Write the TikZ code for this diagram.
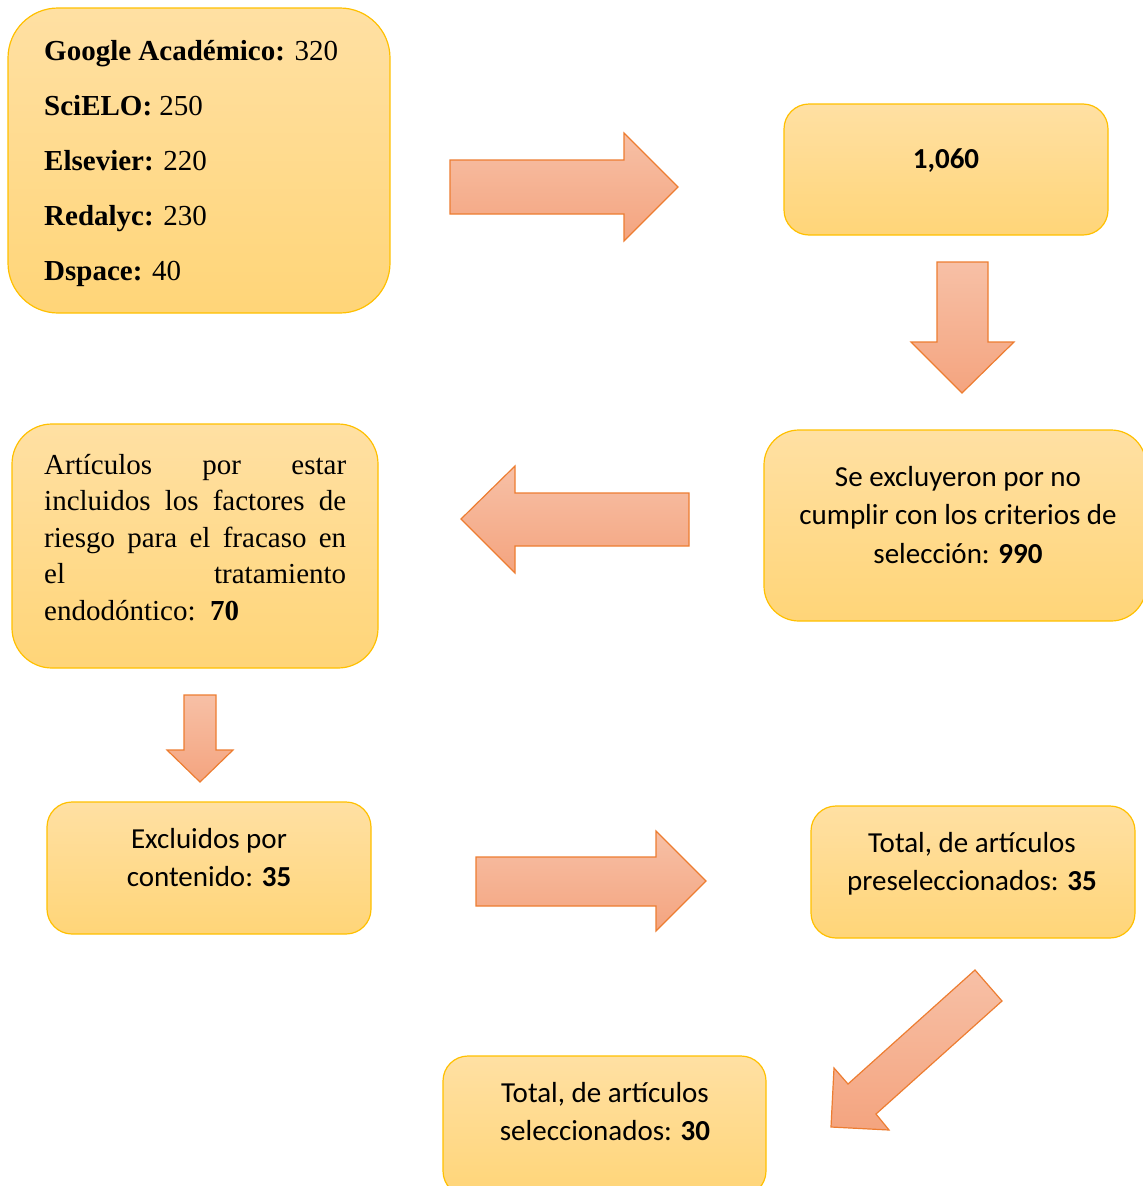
\documentclass[tikz,border=0pt]{standalone}
\usepackage{fontspec}
\setmainfont{Liberation Serif}
\newfontfamily\calfont{Carlito}
\definecolor{boxtop}{HTML}{FFE0A3}
\definecolor{boxbot}{HTML}{FFD578}
\definecolor{boxline}{HTML}{FFC000}
\definecolor{arrtop}{HTML}{F7C0A6}
\definecolor{arrbot}{HTML}{F4A47F}
\definecolor{arrline}{HTML}{ED7D31}
\begin{document}
\begin{tikzpicture}[x=1pt,y=-1pt,
  box/.style={draw=boxline, line width=1.2pt, top color=boxtop, bottom color=boxbot, inner sep=0pt},
  blockarrow/.style={draw=arrline, line width=1.2pt, top color=arrtop, bottom color=arrbot, line join=miter},
  serif/.style={inner sep=0pt, font=\fontsize{29}{55}\selectfont},
  calibri/.style={inner sep=0pt, anchor=base, font=\calfont\fontsize{29}{38.5}\selectfont}]
\useasboundingbox (0,0) rectangle (1143,1186);

% boxes
\node[box, rounded corners=50pt, minimum width=382pt, minimum height=305pt] (b1) at (199,160.5) {};
\node[box, rounded corners=25pt, minimum width=324pt, minimum height=131pt] (b2) at (946,169.5) {};
\node[box, rounded corners=35pt, minimum width=382pt, minimum height=191pt] (b3) at (955,525.5) {};
\node[box, rounded corners=40pt, minimum width=366pt, minimum height=244pt] (b4) at (195,546) {};
\node[box, rounded corners=25pt, minimum width=324pt, minimum height=132pt] (b5) at (209,868) {};
\node[box, rounded corners=25pt, minimum width=324pt, minimum height=132pt] (b6) at (973,872) {};
\node[box, rounded corners=25pt, minimum width=323pt, minimum height=140pt] (b7) at (604.5,1126) {};

% texts
\node[serif, anchor=base west] (t1) at (44,60.7) {\begin{tabular}[t]{@{}l@{}}
\textbf{Google Académico:} 320\\
\textbf{SciELO:} 250\\
\textbf{Elsevier:} 220\\
\textbf{Redalyc:} 230\\
\textbf{Dspace:} 40
\end{tabular}};
\node[calibri] (t2) at (946,168) {\textbf{1,060}};
\node[calibri] (t3) at (958,486) {\begin{tabular}[t]{@{}c@{}}
Se excluyeron por no\\
cumplir con los criterios de\\
selección: \textbf{990}
\end{tabular}};
\node[serif, anchor=base west, font=\fontsize{29}{36.6}\selectfont] (t4) at (44,474) {\begin{tabular}[t]{@{}l@{}}
\makebox[302pt][s]{Artículos por estar}\\
\makebox[302pt][s]{incluidos los factores de}\\
\makebox[302pt][s]{riesgo para el fracaso en}\\
\makebox[302pt][s]{el tratamiento}\\
endodóntico:\ \ \textbf{70}
\end{tabular}};
\node[calibri] (t5) at (209,848) {\begin{tabular}[t]{@{}c@{}}
Excluidos por\\
contenido: \textbf{35}
\end{tabular}};
\node[calibri] (t6) at (972,852) {\begin{tabular}[t]{@{}c@{}}
Total, de artículos\\
preseleccionados: \textbf{35}
\end{tabular}};
\node[calibri] (t7) at (605,1102) {\begin{tabular}[t]{@{}c@{}}
Total, de artículos\\
seleccionados: \textbf{30}
\end{tabular}};

% block arrows
\path[blockarrow] (450,160) -- (624,160) -- (624,133) -- (678,187) -- (624,241) -- (624,214) -- (450,214) -- cycle;
\path[blockarrow] (937,262) -- (988,262) -- (988,342) -- (1014,342) -- (962,393) -- (911,342) -- (937,342) -- cycle;
\path[blockarrow] (689,493) -- (515,493) -- (515,466) -- (461,519) -- (515,573) -- (515,546) -- (689,546) -- cycle;
\path[blockarrow] (184,695) -- (216,695) -- (216,750) -- (233,750) -- (200,782) -- (167,750) -- (184,750) -- cycle;
\path[blockarrow] (476,857) -- (656,857) -- (656,831) -- (706,881) -- (656,931) -- (656,906) -- (476,906) -- cycle;
\path[blockarrow] (975,970) -- (1002,1001) -- (876,1114) -- (889,1130) -- (831,1127) -- (834,1068) -- (848,1084) -- cycle;
\end{tikzpicture}
\end{document}
